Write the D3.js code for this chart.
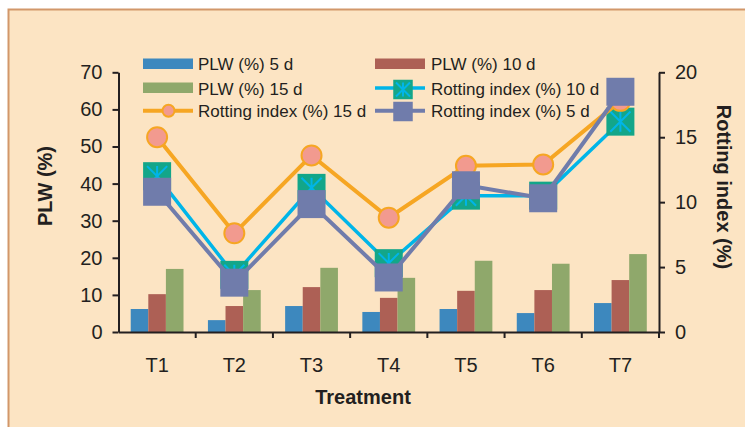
<!DOCTYPE html>
<html><head><meta charset="utf-8">
<script src="https://cdn.jsdelivr.net/npm/d3@7"></script>
<style>
html,body{margin:0;padding:0;background:#fff;}
svg{display:block;font-family:"Liberation Sans",Arial,sans-serif;}
</style></head>
<body>
<svg id="c" width="745" height="427"></svg>
<script>
const categories = ["T1","T2","T3","T4","T5","T6","T7"];
const plw5  = [6.2, 3.2, 7.0, 5.4, 6.2, 5.1, 7.8];
const plw10 = [10.2, 7.0, 12.1, 9.2, 11.1, 11.3, 14.0];
const plw15 = [17.0, 11.3, 17.3, 14.6, 19.2, 18.4, 21.0];
const ri5   = [10.8, 3.8, 9.85, 4.2, 11.3, 10.3, 18.5];
const ri10  = [12.0, 4.4, 11.1, 5.3, 10.5, 10.5, 16.2];
const ri15  = [15.0, 7.6, 13.6, 8.8, 12.8, 12.9, 17.8];
const leftTicks = [0,10,20,30,40,50,60,70];
const rightTicks = [0,5,10,15,20];

const C = {bg:"#fce4c3", frame:"#d2976a", ink:"#231f20",
  blue:"#3d88be", red:"#ad6055", green:"#8fa86b",
  cyan:"#00b5e8", teal:"#13a689", orange:"#f6a623", pink:"#f29a8f", purple:"#707cab"};

const svg = d3.select("#c");
svg.append("rect").attr("x",8.5).attr("y",9.5).attr("width",800).attr("height",500)
  .attr("fill",C.bg).attr("stroke",C.frame).attr("stroke-width",2);

const X0=118.5, X1=659, Y0=332, Y1=72.3;
const x = d3.scaleBand().domain(categories).range([X0,X1]);
const yL = d3.scaleLinear().domain([0,70]).range([Y0,Y1]);
const yR = d3.scaleLinear().domain([0,20]).range([Y0,Y1]);
const cx = c => x(c) + x.bandwidth()/2;

// bars
const barSeries = [{v:plw5,c:C.blue},{v:plw10,c:C.red},{v:plw15,c:C.green}];
const bw = 17.6;
const bars = svg.append("g");
barSeries.forEach((s,si)=>{
  bars.selectAll(null).data(categories).enter().append("rect")
    .attr("x",(d)=>cx(d) - 1.5*bw + si*bw)
    .attr("y",(d,i)=>yL(s.v[i]))
    .attr("width",bw)
    .attr("height",(d,i)=>Y0 - yL(s.v[i]))
    .attr("fill",s.c);
});

// axes
function styleAxis(g){
  g.selectAll("path,line").attr("stroke",C.ink).attr("stroke-width",2);
  g.selectAll("text").attr("fill",C.ink).attr("font-size","20px");
}
svg.append("g").attr("transform",`translate(${X0},0)`)
  .call(d3.axisLeft(yL).tickValues(leftTicks).tickSize(6).tickSizeOuter(0).tickPadding(10))
  .call(styleAxis).call(g=>g.selectAll("text").attr("font-family","Liberation Sans, Arial"));
svg.append("g").attr("transform",`translate(${X1},0)`)
  .call(d3.axisRight(yR).tickValues(rightTicks).tickSize(6).tickSizeOuter(0).tickPadding(10))
  .call(styleAxis).call(g=>g.selectAll("text").attr("font-family","Liberation Sans, Arial"));
const xb = svg.append("g").attr("transform",`translate(0,${Y0})`)
  .call(d3.axisBottom(x).tickSize(0).tickSizeOuter(0).tickPadding(26))
  .call(styleAxis).call(g=>g.selectAll("text").attr("font-family","Liberation Sans, Arial"));
const bounds = categories.map(c=>x(c)).concat([X1]);
xb.selectAll("line.bt").data(bounds.slice(1)).enter().append("line").attr("class","bt")
  .attr("x1",d=>d).attr("x2",d=>d).attr("y1",0).attr("y2",6)
  .attr("stroke",C.ink).attr("stroke-width",2);

// titles
svg.append("text").attr("transform","translate(52,186) rotate(-90)")
  .attr("text-anchor","middle").attr("font-weight","bold").attr("font-size","20px")
  .attr("fill",C.ink).text("PLW (%)");
svg.append("text").attr("transform","translate(717,187) rotate(90)")
  .attr("text-anchor","middle").attr("font-weight","bold").attr("font-size","20px")
  .attr("fill",C.ink).text("Rotting index (%)");
svg.append("text").attr("x",363).attr("y",404)
  .attr("text-anchor","middle").attr("font-weight","bold").attr("font-size","20px")
  .attr("fill",C.ink).text("Treatment");

// marker helpers
function square(g, px, py, s, fill){
  g.append("rect").attr("x",px-s/2).attr("y",py-s/2).attr("width",s).attr("height",s).attr("fill",fill);
}
function starMarker(g, px, py, s){
  square(g,px,py,s,C.teal);
  const r = s*0.36;
  g.append("path").attr("stroke",C.cyan).attr("stroke-width",2).attr("fill","none")
    .attr("d",`M${px},${py-r}L${px},${py+r}M${px-r},${py-r}L${px+r},${py+r}M${px+r},${py-r}L${px-r},${py+r}`);
}
function circleMarker(g, px, py, r){
  g.append("circle").attr("cx",px).attr("cy",py).attr("r",r).attr("fill",C.pink)
    .attr("stroke",C.orange).attr("stroke-width",2);
}

const line = d3.line().x(d=>cx(d[0])).y(d=>yR(d[1]));
function drawSeries(vals, color, width, marker){
  const g = svg.append("g");
  g.append("path").datum(categories.map((c,i)=>[c,vals[i]])).attr("d",line)
    .attr("fill","none").attr("stroke",color).attr("stroke-width",width);
  categories.forEach((c,i)=>marker(g,cx(c),yR(vals[i])));
}
drawSeries(ri10, C.cyan, 3.5, (g,px,py)=>starMarker(g,px,py,28));
drawSeries(ri15, C.orange, 4, (g,px,py)=>circleMarker(g,px,py,10));
drawSeries(ri5, C.purple, 4, (g,px,py)=>square(g,px,py,28,C.purple));

// legend
const lg = svg.append("g");
const col1 = 143, col2 = 375, sw = 50, tx1 = 198, tx2 = 431;
const legendText = (xx,yy,t)=>lg.append("text").attr("x",xx).attr("y",yy)
  .attr("font-size","17px").attr("fill",C.ink).text(t);
lg.append("rect").attr("x",col1).attr("y",58.5).attr("width",sw).attr("height",10.5).attr("fill",C.blue);
legendText(tx1,70,"PLW (%) 5 d");
lg.append("rect").attr("x",col2).attr("y",58.5).attr("width",sw).attr("height",10.5).attr("fill",C.red);
legendText(tx2,70,"PLW (%) 10 d");
lg.append("rect").attr("x",col1).attr("y",82.5).attr("width",sw).attr("height",10.5).attr("fill",C.green);
legendText(tx1,94.5,"PLW (%) 15 d");
lg.append("line").attr("x1",col2).attr("x2",col2+sw).attr("y1",88).attr("y2",88).attr("stroke",C.cyan).attr("stroke-width",3.5);
starMarker(lg, col2+28, 89.5, 19.5);
legendText(tx2,94.5,"Rotting index (%) 10 d");
lg.append("line").attr("x1",col1).attr("x2",col1+sw).attr("y1",110.7).attr("y2",110.7).attr("stroke",C.orange).attr("stroke-width",4);
circleMarker(lg, 168.5, 110.7, 6);
legendText(tx1,116.5,"Rotting index (%) 15 d");
lg.append("line").attr("x1",col2).attr("x2",col2+sw).attr("y1",110.7).attr("y2",110.7).attr("stroke",C.purple).attr("stroke-width",4);
square(lg, col2+28, 111.5, 19.5, C.purple);
legendText(tx2,116.5,"Rotting index (%) 5 d");
</script>
</body></html>
